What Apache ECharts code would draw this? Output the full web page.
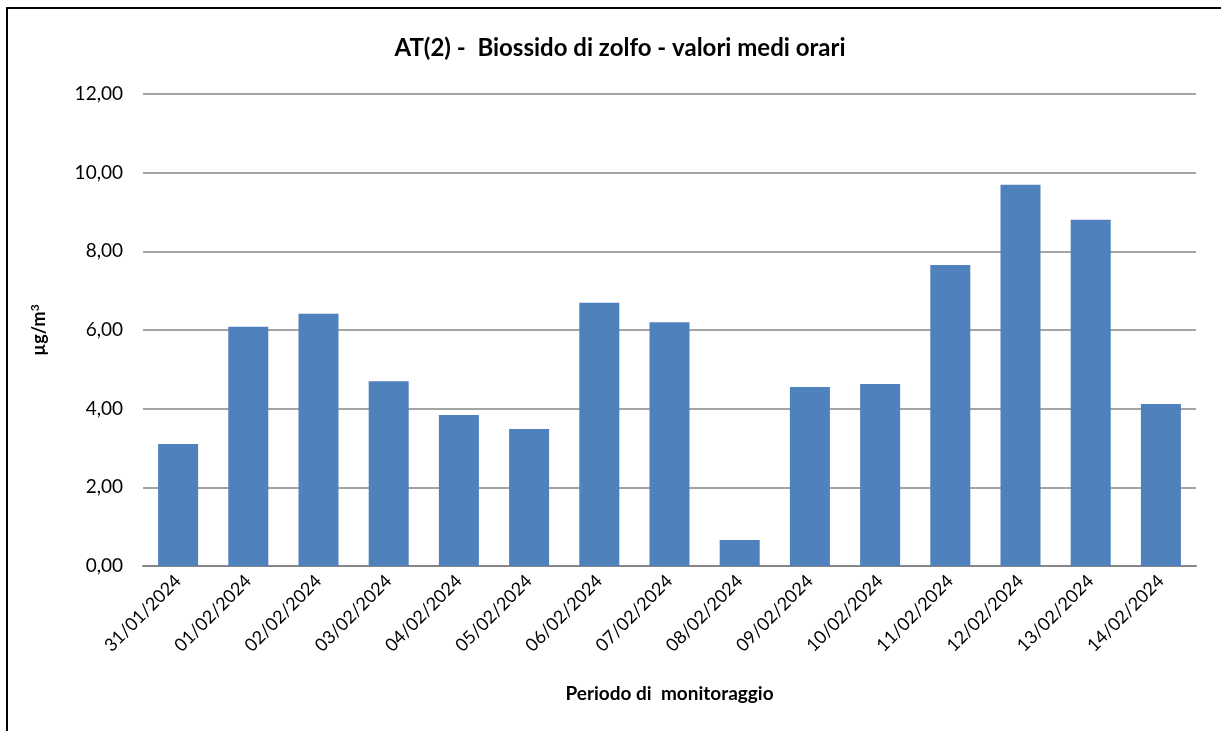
<!DOCTYPE html>
<html>
<head>
<meta charset="utf-8">
<script src="https://cdn.jsdelivr.net/npm/echarts@6/dist/echarts.min.js"></script>
<style>
  html, body { margin: 0; padding: 0; background: #fff; }
  #chart { width: 1221px; height: 731px; }
</style>
</head>
<body>
<div id="chart"></div>
<script>
  // dati
  var giorni = ['31/01/2024', '01/02/2024', '02/02/2024', '03/02/2024', '04/02/2024',
    '05/02/2024', '06/02/2024', '07/02/2024', '08/02/2024', '09/02/2024',
    '10/02/2024', '11/02/2024', '12/02/2024', '13/02/2024', '14/02/2024'];
  var valori = [3.10, 6.08, 6.41, 4.70, 3.84, 3.48, 6.69, 6.20, 0.66, 4.55, 4.63, 7.65, 9.69, 8.80, 4.12];

  var font = 'Lato, "Open Sans", sans-serif';
  var myChart = echarts.init(document.getElementById('chart'));

  var option = {
    backgroundColor: '#fff',
    animation: false,
    graphic: [{
      type: 'rect',
      shape: { x: 7, y: 8, width: 1300, height: 800 },
      style: { fill: 'none', stroke: '#000', lineWidth: 2 }
    }],
    title: {
      text: 'AT(2) -  Biossido di zolfo - valori medi orari',
      left: 615,
      textAlign: 'center',
      top: 31,
      textStyle: { fontFamily: font, fontSize: 24, fontWeight: 'bold', color: '#000' }
    },
    grid: {
      left: 143,
      right: 25,
      top: 94,
      bottom: 165
    },
    xAxis: {
      type: 'category',
      data: giorni,
      name: 'Periodo di  monitoraggio',
      nameLocation: 'middle',
      nameGap: 118,
      nameTextStyle: { fontFamily: font, fontSize: 19, fontWeight: 'bold', color: '#000' },
      axisLine: { lineStyle: { color: '#868686', width: 2 } },
      axisTick: { show: false },
      axisLabel: {
        rotate: 45,
        interval: 0,
        margin: 12,
        fontFamily: font,
        fontSize: 18,
        color: '#000'
      }
    },
    yAxis: {
      type: 'value',
      min: 0,
      max: 12,
      interval: 2,
      name: '{u|µg/m}{s|3}',
      nameLocation: 'middle',
      nameGap: 94,
      nameTextStyle: {
        rich: {
          u: { fontFamily: font, fontSize: 18, fontWeight: 'bold', color: '#000' },
          s: { fontFamily: font, fontSize: 12, fontWeight: 'bold', color: '#000', verticalAlign: 'top', padding: [0, 0, 8, 0] }
        }
      },
      axisLine: { show: false },
      axisTick: { show: false },
      axisLabel: {
        margin: 20,
        fontFamily: font,
        fontSize: 19,
        color: '#000',
        formatter: function (v) { return v.toFixed(2).replace('.', ','); }
      },
      splitLine: { lineStyle: { color: '#868686', width: 1.5 } }
    },
    series: [{
      type: 'bar',
      data: valori,
      barWidth: '57%',
      itemStyle: { color: '#4f81bd' }
    }]
  };

  myChart.setOption(option);
</script>
</body>
</html>
